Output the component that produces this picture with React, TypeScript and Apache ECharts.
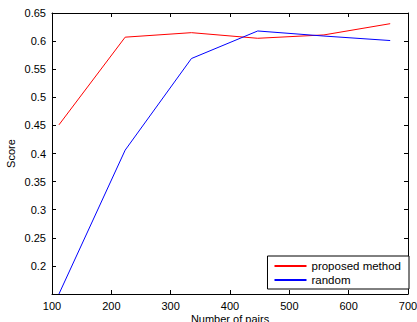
import React, { useEffect, useRef } from "react";
import * as echarts from "echarts";

const pairs = [111.7, 223.3, 335, 446.7, 558.3, 670];
const proposed = [0.451, 0.607, 0.615, 0.605, 0.611, 0.631];
const randomScores = [0.15, 0.406, 0.569, 0.618, 0.609, 0.601];
const seriesNames = ["proposed method", "random"];

const FONT = "Liberation Sans, Arial, Helvetica, sans-serif";

export default function App() {
  const ref = useRef<HTMLDivElement>(null);
  useEffect(() => {
    if (!ref.current) return;
    const chart = echarts.init(ref.current, null, { renderer: "svg" });
    const axisLine = { show: true, lineStyle: { color: "#000", width: 1 } };
    const tick = { show: true, inside: true, length: 4, lineStyle: { color: "#000" } };
    chart.setOption({
      animation: false,
      backgroundColor: "#fff",
      textStyle: { fontFamily: FONT },
      grid: { left: 52, right: 9, top: 13, bottom: 28, containLabel: false, outerBoundsMode: "none" },
      legend: {
        data: seriesNames,
        orient: "vertical",
        right: 8,
        bottom: 33,
        itemWidth: 32,
        itemHeight: 12,
        itemGap: 2,
        padding: [4, 8, 3, 6],
        borderColor: "#000",
        borderWidth: 1,
        backgroundColor: "#fff",
        borderRadius: 0,
        itemStyle: { opacity: 0, borderWidth: 0 },
        textStyle: { fontSize: 11.5, color: "#000", fontFamily: FONT, padding: [0, 0, 0, 0] },
      },
      xAxis: [
        {
          type: "value",
          min: 100,
          max: 700,
          interval: 100,
          name: "Number of pairs",
          nameLocation: "middle",
          nameGap: 19,
          nameMoveOverlap: false,
          nameTextStyle: { fontSize: 11, color: "#000", fontFamily: FONT },
          axisLine,
          axisTick: tick,
          splitLine: { show: false },
          axisLabel: { fontSize: 11, color: "#000", fontFamily: FONT, margin: 6 },
        },
        {
          type: "value",
          position: "top",
          min: 100,
          max: 700,
          interval: 100,
          axisLine,
          axisTick: tick,
          splitLine: { show: false },
          axisLabel: { show: false },
        },
      ],
      yAxis: [
        {
          type: "value",
          min: 0.15,
          max: 0.65,
          interval: 0.05,
          name: "Score",
          nameLocation: "middle",
          nameGap: 36,
          nameMoveOverlap: false,
          nameTextStyle: { fontSize: 11, color: "#000", fontFamily: FONT },
          axisLine,
          axisTick: tick,
          splitLine: { show: false },
          axisLabel: {
            fontSize: 11,
            color: "#000",
            fontFamily: FONT,
            margin: 6,
            showMinLabel: false,
            formatter: (v: number) => String(parseFloat(v.toFixed(2))),
          },
        },
        {
          type: "value",
          position: "right",
          min: 0.15,
          max: 0.65,
          interval: 0.05,
          axisLine,
          axisTick: tick,
          splitLine: { show: false },
          axisLabel: { show: false },
        },
      ],
      series: [
        {
          name: seriesNames[0],
          type: "line",
          data: pairs.map((x, i) => [x, proposed[i]]),
          symbol: "none",
          lineStyle: { color: "#ff0000", width: 1 },
          itemStyle: { color: "#ff0000" },
        },
        {
          name: seriesNames[1],
          type: "line",
          data: pairs.map((x, i) => [x, randomScores[i]]),
          symbol: "none",
          lineStyle: { color: "#0000ff", width: 1 },
          itemStyle: { color: "#0000ff" },
        },
      ],
    });
    return () => chart.dispose();
  }, []);
  return <div ref={ref} style={{ width: 417, height: 322, position: "absolute", left: 0, top: 0 }} />;
}
